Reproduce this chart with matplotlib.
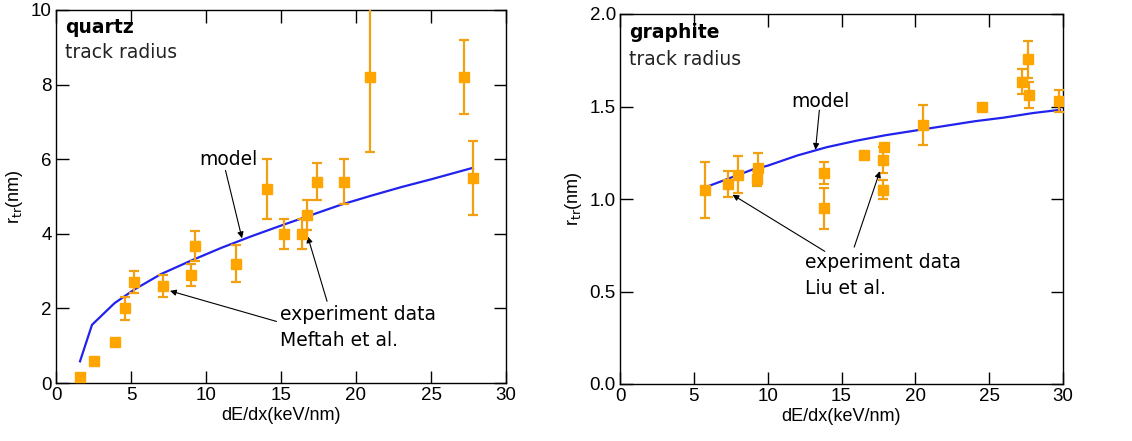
import numpy as np
import matplotlib
matplotlib.use('Agg')
import matplotlib.pyplot as plt

# quartz data (Meftah et al.)
q_x = [1.62, 2.56, 3.9, 4.62, 5.18, 7.16, 9.02, 9.24, 12.0, 14.04, 15.2, 16.4, 16.7, 17.4, 19.2, 20.9, 27.2, 27.8]
q_y = [0.15, 0.6, 1.1, 2.0, 2.7, 2.6, 2.9, 3.68, 3.2, 5.2, 4.0, 4.0, 4.5, 5.4, 5.4, 8.2, 8.2, 5.5]
q_err = [0, 0, 0, 0.3, 0.3, 0.3, 0.3, 0.4, 0.5, 0.8, 0.4, 0.4, 0.4, 0.5, 0.6, 2.0, 1.0, 1.0]

# quartz model
qm_x = [1.6, 2.4, 3.9, 5.2, 7.0, 9.0, 11.0, 13.0, 15.0, 17.0, 19.0, 21.0, 23.0, 25.0, 27.8]
qm_y = [0.58, 1.56, 2.14, 2.5, 2.92, 3.28, 3.62, 3.93, 4.22, 4.5, 4.78, 5.02, 5.25, 5.46, 5.77]

# graphite data (Liu et al.)
g_x = [5.77, 7.29, 7.96, 9.25, 9.35, 13.83, 13.83, 16.5, 17.9, 17.78, 17.78, 20.5, 24.5, 27.2, 27.65, 27.7, 29.7]
g_y = [1.05, 1.08, 1.13, 1.11, 1.17, 1.14, 0.95, 1.24, 1.28, 1.21, 1.05, 1.4, 1.5, 1.635, 1.755, 1.56, 1.53]
g_err = [0.15, 0.07, 0.1, 0.04, 0.08, 0.06, 0.11, 0, 0, 0.07, 0.05, 0.11, 0, 0.07, 0.1, 0.07, 0.06]

# graphite model
gm_x = [5.8, 7, 8, 9, 10, 12, 14, 16, 18, 20, 22, 24, 26, 28, 29.8]
gm_y = [1.064, 1.10, 1.13, 1.16, 1.18, 1.235, 1.28, 1.315, 1.345, 1.37, 1.395, 1.42, 1.44, 1.465, 1.482]

orange = '#FFA500'
ebar = '#F0A010'
blue = '#2222EE'
tickfont = 'Liberation Sans'
txtfont = 'DejaVu Sans'

fig = plt.figure(figsize=(11.32, 4.41), dpi=100)
ax1 = fig.add_axes([56 / 1132, 1 - 383 / 441, 450 / 1132, 373 / 441])
ax2 = fig.add_axes([620 / 1132, 1 - 384 / 441, 443 / 1132, 370 / 441])


def style(ax, ylim, yticks, ylabels):
    ax.set_xlim(0, 30)
    ax.set_ylim(*ylim)
    ax.set_xticks(range(0, 31, 5))
    ax.set_yticks(yticks)
    ax.set_yticklabels(ylabels)
    ax.tick_params(direction='in', top=True, right=True, length=9, width=1,
                   labelsize=13.5, pad=3)
    for lab in ax.get_xticklabels() + ax.get_yticklabels():
        lab.set_family(tickfont)
    for s in ax.spines.values():
        s.set_linewidth(1)
    ax.set_xlabel('dE/dx(keV/nm)', fontsize=13, family=tickfont, labelpad=2)
    ax.set_ylabel(r'r$_{\rm tr}$(nm)', fontsize=13, family=tickfont, labelpad=4)


def draw(ax, x, y, err, mx, my):
    ax.plot(mx, my, color=blue, lw=1.6, zorder=2)
    ax.errorbar(x, y, yerr=err, fmt='none', ecolor=ebar, elinewidth=1.6,
                capsize=3.5, capthick=1.6, zorder=3)
    ax.plot(x, y, 's', color=orange, ms=7, zorder=4)


arrow = dict(arrowstyle='-|>', color='k', lw=0.8, mutation_scale=9, shrinkA=0, shrinkB=0)

# quartz
draw(ax1, q_x, q_y, q_err, qm_x, qm_y)
style(ax1, (0, 10), [0, 2, 4, 6, 8, 10], ['0', '2', '4', '6', '8', '10'])
ax1.text(0.02, 0.954, 'quartz', transform=ax1.transAxes, fontsize=13.5,
         fontweight='bold', family=txtfont, va='center')
ax1.text(0.02, 0.887, 'track radius', transform=ax1.transAxes, fontsize=13.5,
         family=txtfont, va='center', color='#222222')
ax1.text(9.55, 5.98, 'model', fontsize=13.5, family=txtfont, va='center')
ax1.annotate('', xy=(12.4, 3.88), xytext=(11.3, 5.7), arrowprops=arrow)
ax1.text(14.96, 1.48, 'experiment data\nMeftah et al.', fontsize=13.5,
         family=txtfont, va='center', linespacing=1.45)
ax1.annotate('', xy=(7.6, 2.47), xytext=(14.7, 1.65), arrowprops=arrow)
ax1.annotate('', xy=(16.78, 3.93), xytext=(18.07, 2.19), arrowprops=arrow)

# graphite
draw(ax2, g_x, g_y, g_err, gm_x, gm_y)
style(ax2, (0, 2), [0, 0.5, 1.0, 1.5, 2.0], ['0.0', '0.5', '1.0', '1.5', '2.0'])
ax2.text(0.02, 0.949, 'graphite', transform=ax2.transAxes, fontsize=13.5,
         fontweight='bold', family=txtfont, va='center')
ax2.text(0.02, 0.876, 'track radius', transform=ax2.transAxes, fontsize=13.5,
         family=txtfont, va='center', color='#222222')
ax2.text(11.6, 1.527, 'model', fontsize=13.5, family=txtfont, va='center')
ax2.annotate('', xy=(13.24, 1.266), xytext=(13.5, 1.48), arrowprops=arrow)
ax2.text(12.5, 0.585, 'experiment data\nLiu et al.', fontsize=13.5,
         family=txtfont, va='center', linespacing=1.45)
ax2.annotate('', xy=(7.62, 1.023), xytext=(13.87, 0.717), arrowprops=arrow)
ax2.annotate('', xy=(17.6, 1.15), xytext=(15.86, 0.74), arrowprops=arrow)

fig.savefig('out.png', dpi=100)
